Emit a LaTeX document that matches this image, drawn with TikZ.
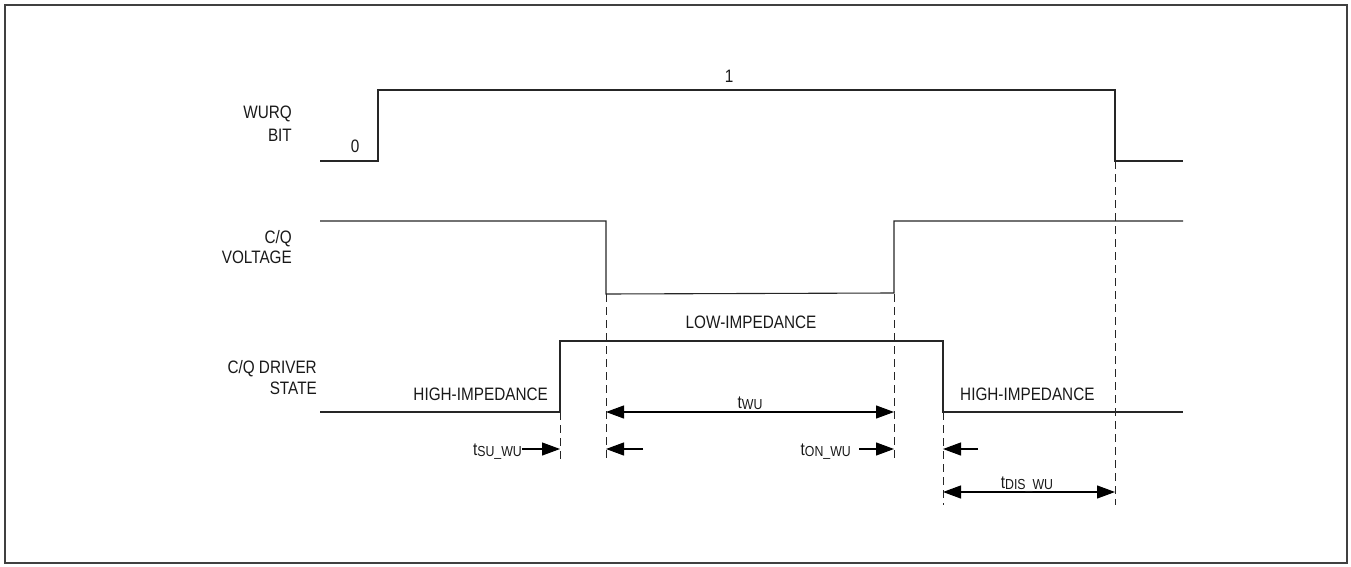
\documentclass[tikz,border=0pt]{standalone}
\usepackage{fontspec}
\setmainfont{Liberation Sans}[FakeStretch=0.85]
\usetikzlibrary{arrows.meta}
\newcommand\tsub[1]{t\raisebox{-1.5pt}{\fontsize{14.5}{14.5}\selectfont #1}}
\begin{document}
\begin{tikzpicture}[x=1pt,y=-1pt,
  wave/.style={line width=1.1pt, black!85},
  guide/.style={line width=1pt, dash pattern=on 8pt off 5pt, black!85},
  dimarrow/.style={line width=1.1pt, black, -{Triangle[length=18pt,width=13pt]}},
  ddimarrow/.style={line width=1.1pt, black, {Triangle[length=18pt,width=13pt]}-{Triangle[length=18pt,width=13pt]}},
  lbl/.style={font=\fontsize{18}{20}\selectfont, inner sep=0pt, text=black!90}]
\useasboundingbox (0,0) rectangle (1351,567);
\draw[line width=1.2pt, black!75] (5,5) rectangle (1347,563);

% key time points
\coordinate (wr) at (378,161);
\coordinate (wf) at (1115,161);
\coordinate (vf) at (606,294);
\coordinate (vr) at (894,294);
\coordinate (dr) at (560,412);
\coordinate (df) at (943,412);

% waveforms
\draw[wave] (320,161) -- (wr) -- (378,90) -- (1115,90) -- (wf) -- (1183,161);
\draw[wave] (320,221) -- (606,221) -- (vf) -- (894,293) -- (894,221) -- (1183,221);
\draw[wave] (320,412) -- (dr) -- (560,341) -- (943,341) -- (df) -- (1183,412);

% dashed guides
\coordinate (g1) at (560,462);
\coordinate (g2) at (606,462);
\coordinate (g3) at (894,462);
\coordinate (g4) at (943,505);
\coordinate (g5) at (1115,505);
\draw[guide] (dr) -- (g1);
\draw[guide] (vf) -- (g2);
\draw[guide] (vr) -- (g3);
\draw[guide] (df) -- (g4);
\draw[guide] (wf) -- (g5);

% signal names
\node[lbl, anchor=base east] (n1) at (292,119) {WURQ};
\node[lbl, anchor=base east] (n2) at (292,142) {BIT};
\node[lbl, anchor=base east] (n3) at (292,243) {C/Q};
\node[lbl, anchor=base east] (n4) at (292,263) {VOLTAGE};
\node[lbl, anchor=base east] (n5) at (317,373) {C/Q DRIVER};
\node[lbl, anchor=base east] (n6) at (317,394) {STATE};

% state labels
\node[lbl, anchor=base] (b0) at (355,152) {0};
\node[lbl, anchor=base] (b1) at (729,83) {1};
\node[lbl, anchor=base] (lowz) at (751,328) {LOW-IMPEDANCE};
\node[lbl, anchor=base east] (hz1) at (548,400) {HIGH-IMPEDANCE};
\node[lbl, anchor=base west] (hz2) at (960,400) {HIGH-IMPEDANCE};

% timing: tWU
\coordinate (twa) at (606,412);
\coordinate (twb) at (894,412);
\draw[ddimarrow] (twa) -- (twb);
\node[lbl, anchor=base] (twu) at (750,408) {\tsub{WU}};

% timing: tSU_WU
\node[lbl, anchor=base east] (tsu) at (522,455) {\tsub{SU\_WU}};
\coordinate (tsua) at (522,449);
\coordinate (tsub) at (560,449);
\draw[dimarrow] (tsua) -- (tsub);
\coordinate (vfa) at (643,449);
\coordinate (vfb) at (606,449);
\draw[dimarrow] (vfa) -- (vfb);

% timing: tON_WU
\node[lbl, anchor=base east] (ton) at (851,455) {\tsub{ON\_WU}};
\coordinate (tona) at (859,449);
\coordinate (tonb) at (894,449);
\draw[dimarrow] (tona) -- (tonb);
\coordinate (dfa) at (978,449);
\coordinate (dfb) at (943,449);
\draw[dimarrow] (dfa) -- (dfb);

% timing: tDIS_WU
\coordinate (tda) at (943,492);
\coordinate (tdb) at (1115,492);
\draw[ddimarrow] (tda) -- (tdb);
\node[lbl, anchor=base] (tdis) at (1027,488) {\tsub{DIS\_WU}};
\end{tikzpicture}
\end{document}
